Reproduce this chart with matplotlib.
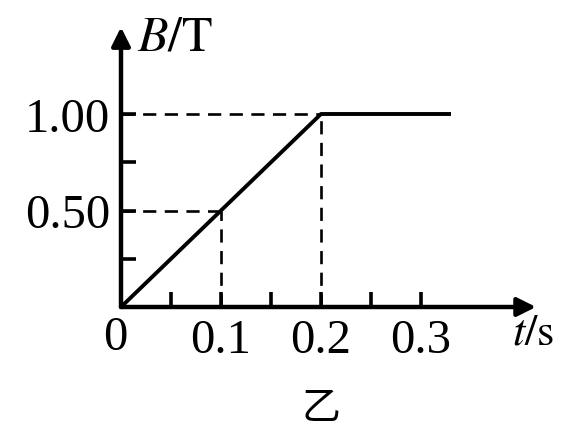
import matplotlib
matplotlib.use('Agg')
import matplotlib.pyplot as plt

plt.rcParams['font.family'] = ['Liberation Serif', 'Noto Sans CJK SC']
plt.rcParams['mathtext.fontset'] = 'stix'

# B-t graph: field grows linearly to 1.00 T at 0.2 s, then stays constant
t = [0.0, 0.2, 0.33]
B = [0.0, 1.0, 1.0]

# guide points marked with dashed lines
guide_t = [0.1, 0.2]
guide_B = [0.5, 1.0]

x_ticks = [0.05, 0.1, 0.15, 0.2, 0.25, 0.3]
x_labels = ['', '0.1', '', '0.2', '', '0.3']
y_ticks = [0.25, 0.5, 0.75, 1.0]
y_labels = ['', '0.50', '', '1.00']

W, H = 561, 431
fig = plt.figure(figsize=(W / 100, H / 100), dpi=100)
# origin at pixel (121, 308); 1000 px per second, 193 px per tesla
xmax, ymax = 0.415, 1.45
ax = fig.add_axes([121 / W, 123 / H, xmax * 1000 / W, ymax * 193 / H])
ax.set_xlim(0, xmax)
ax.set_ylim(0, ymax)
ax.patch.set_visible(False)
for s in ax.spines.values():
    s.set_visible(False)

# axes with arrows
ax.annotate('', xy=(1, 0), xytext=(0, 0), xycoords='axes fraction',
            arrowprops=dict(arrowstyle='-|>', lw=3.2, color='black', mutation_scale=28,
                            shrinkA=0, shrinkB=0))
ax.annotate('', xy=(0, 1), xytext=(0, 0), xycoords='axes fraction',
            arrowprops=dict(arrowstyle='-|>', lw=3.2, color='black', mutation_scale=28,
                            shrinkA=0, shrinkB=0))

ax.plot(t, B, color='black', lw=2.8, solid_capstyle='butt')
for gt, gb in zip(guide_t, guide_B):
    ax.plot([0, gt], [gb, gb], color='black', lw=1.9, dashes=(5, 3.2))
    ax.plot([gt, gt], [0, gb], color='black', lw=1.9, dashes=(5, 3.2))

ax.set_xticks(x_ticks)
ax.set_xticklabels(x_labels)
ax.set_yticks(y_ticks)
ax.set_yticklabels(y_labels)
ax.tick_params(axis='both', direction='in', length=11, width=2.6, labelsize=35)
ax.tick_params(axis='x', pad=8)
ax.tick_params(axis='y', pad=8)

ax.text(-0.006, -0.155, '0', fontsize=35, ha='center', va='center')
ax.text(0.016, 1.40, r'$B/\mathrm{T}$', fontsize=36, ha='left', va='center')
ax.text(0.412, -0.13, r'$t/\mathrm{s}$', fontsize=32, ha='center', va='center', clip_on=False)
ax.text(0.2, -0.52, '乙', fontsize=28, ha='center', va='center',
        family=['Noto Sans CJK SC'])

fig.savefig('out.png', dpi=100, facecolor='white')
